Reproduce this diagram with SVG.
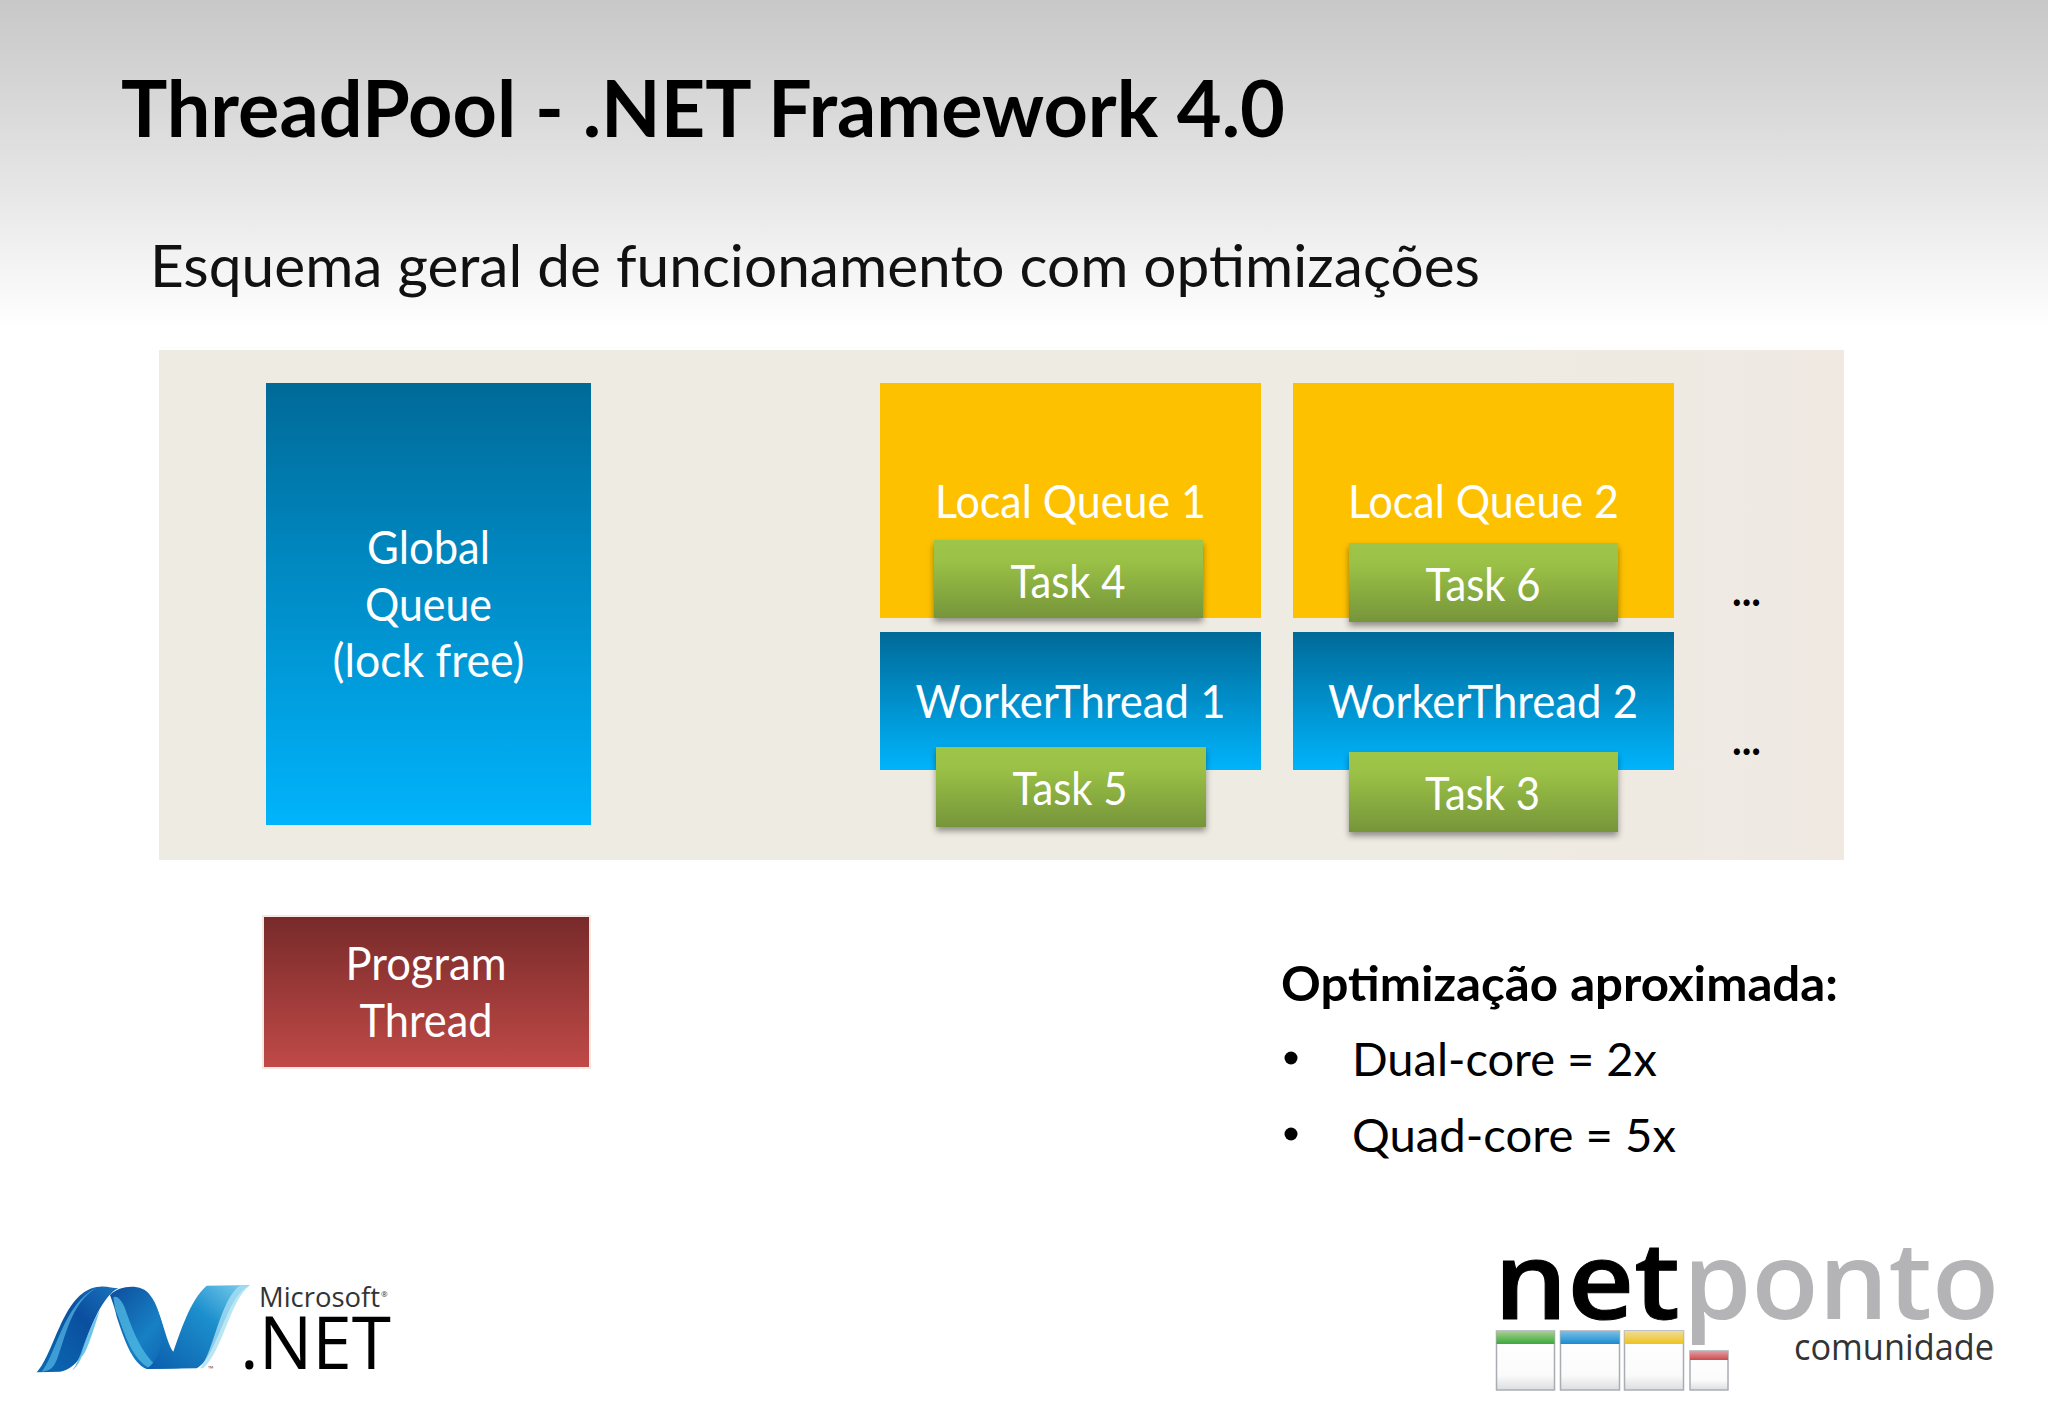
<svg xmlns="http://www.w3.org/2000/svg" width="2048" height="1418" viewBox="0 0 2048 1418">
<defs>
<linearGradient id="page" x1="0" y1="0" x2="0" y2="1"><stop offset="0" stop-color="#c8c8c8"/><stop offset="0.5" stop-color="#e2e2e2"/><stop offset="1" stop-color="#ffffff"/></linearGradient>
<linearGradient id="panel" x1="0" y1="0" x2="1" y2="0"><stop offset="0" stop-color="#eeebe2"/><stop offset="0.8" stop-color="#eeebe2"/><stop offset="1" stop-color="#efe9e2"/></linearGradient>
<linearGradient id="blue" x1="0" y1="0" x2="0" y2="1"><stop offset="0" stop-color="#006a98"/><stop offset="1" stop-color="#00b4fc"/></linearGradient>
<linearGradient id="green" x1="0" y1="0" x2="0" y2="1"><stop offset="0" stop-color="#9dc548"/><stop offset="0.25" stop-color="#9bc246"/><stop offset="1" stop-color="#76953a"/></linearGradient>
<linearGradient id="red" x1="0" y1="0" x2="0" y2="1"><stop offset="0" stop-color="#772a2a"/><stop offset="1" stop-color="#c04a47"/></linearGradient>
<linearGradient id="net1" x1="0" y1="1" x2="1" y2="0"><stop offset="0" stop-color="#0a6ab4"/><stop offset="0.6" stop-color="#0b4f9f"/><stop offset="1" stop-color="#1a73bd"/></linearGradient>
<linearGradient id="net2" x1="0" y1="0" x2="1" y2="1"><stop offset="0" stop-color="#0d4d9d"/><stop offset="0.55" stop-color="#1780c4"/><stop offset="1" stop-color="#0b5cab"/></linearGradient>
<linearGradient id="net3" x1="0" y1="1" x2="1" y2="0"><stop offset="0" stop-color="#0b5cab"/><stop offset="0.6" stop-color="#1c8fcd"/><stop offset="1" stop-color="#7fd0ee"/></linearGradient>
<linearGradient id="win" x1="0" y1="0" x2="0" y2="1"><stop offset="0" stop-color="#ffffff"/><stop offset="0.75" stop-color="#fbfbfb"/><stop offset="1" stop-color="#dcdde0"/></linearGradient>
<linearGradient id="hg" x1="0" y1="0" x2="0" y2="1"><stop offset="0" stop-color="#a8d08e"/><stop offset="1" stop-color="#3aa83c"/></linearGradient>
<linearGradient id="hb" x1="0" y1="0" x2="0" y2="1"><stop offset="0" stop-color="#7cc0e6"/><stop offset="1" stop-color="#1a8ad0"/></linearGradient>
<linearGradient id="hy" x1="0" y1="0" x2="0" y2="1"><stop offset="0" stop-color="#efdc98"/><stop offset="1" stop-color="#f0c21c"/></linearGradient>
<linearGradient id="hr" x1="0" y1="0" x2="0" y2="1"><stop offset="0" stop-color="#e0a0a2"/><stop offset="1" stop-color="#cc4a50"/></linearGradient>
<filter id="shadow" x="-5%" y="-5%" width="110%" height="125%"><feDropShadow dx="0" dy="4" stdDeviation="3" flood-color="#000" flood-opacity="0.4"/></filter>
</defs>
<style>
text{font-family:Lato,"Open Sans",sans-serif}
.l{fill:#fff;font-size:46px;text-anchor:middle}
.b{fill:#000;font-size:47px}
.win{stroke:#a9adb2;stroke-width:1.5;fill:url(#win)}
.logo{font-family:"Open Sans",sans-serif}
</style>
<rect width="2048" height="1418" fill="#fff"/>
<rect id="page-bg" width="2048" height="330" fill="url(#page)"/>
<text id="title" x="121" y="137" font-size="78" font-weight="700" textLength="1164" lengthAdjust="spacingAndGlyphs" fill="#000">ThreadPool - .NET Framework 4.0</text>
<text id="subtitle" x="150" y="287" font-size="59" textLength="1330" lengthAdjust="spacingAndGlyphs" fill="#111">Esquema geral de funcionamento com optimizações</text>
<rect id="panel-rect" x="159" y="350" width="1685" height="510" fill="url(#panel)"/>
<g id="global-queue"><rect x="266" y="383" width="325" height="442" fill="url(#blue)"/>
<text class="l" x="428.5" y="564" textLength="123" lengthAdjust="spacingAndGlyphs">Global</text>
<text class="l" x="428.5" y="621" textLength="127" lengthAdjust="spacingAndGlyphs">Queue</text>
<text class="l" x="428.5" y="677" textLength="192" lengthAdjust="spacingAndGlyphs">(lock free)</text></g>
<g id="program-thread"><rect x="263" y="916" width="327" height="152" fill="url(#red)" stroke="#f6e8e2" stroke-width="2"/>
<text class="l" x="426" y="980" textLength="161" lengthAdjust="spacingAndGlyphs">Program</text>
<text class="l" x="426" y="1037" textLength="133" lengthAdjust="spacingAndGlyphs">Thread</text></g>
<g id="local-queue-1"><rect x="880" y="383" width="381" height="235" fill="#fdc100"/><text class="l" x="1070.5" y="518" textLength="271" lengthAdjust="spacingAndGlyphs">Local Queue 1</text></g>
<g id="local-queue-2"><rect x="1293" y="383" width="381" height="235" fill="#fdc100"/><text class="l" x="1483.5" y="518" textLength="271" lengthAdjust="spacingAndGlyphs">Local Queue 2</text></g>
<g id="worker-thread-1"><rect x="880" y="632" width="381" height="138" fill="url(#blue)"/><text class="l" x="1070.5" y="718" textLength="310" lengthAdjust="spacingAndGlyphs">WorkerThread 1</text></g>
<g id="worker-thread-2"><rect x="1293" y="632" width="381" height="138" fill="url(#blue)"/><text class="l" x="1483" y="718" textLength="310" lengthAdjust="spacingAndGlyphs">WorkerThread 2</text></g>
<g id="task-4"><rect x="934" y="540" width="269" height="78" fill="url(#green)" filter="url(#shadow)"/><text class="l" x="1068" y="598" textLength="115" lengthAdjust="spacingAndGlyphs">Task 4</text></g>
<g id="task-6"><rect x="1349" y="543" width="269" height="79" fill="url(#green)" filter="url(#shadow)"/><text class="l" x="1483" y="601" textLength="115" lengthAdjust="spacingAndGlyphs">Task 6</text></g>
<g id="task-5"><rect x="936" y="747" width="270" height="80" fill="url(#green)" filter="url(#shadow)"/><text class="l" x="1070" y="805" textLength="115" lengthAdjust="spacingAndGlyphs">Task 5</text></g>
<g id="task-3"><rect x="1349" y="752" width="269" height="80" fill="url(#green)" filter="url(#shadow)"/><text class="l" x="1482.5" y="810" textLength="115" lengthAdjust="spacingAndGlyphs">Task 3</text></g>
<g id="ellipses"><text x="1732" y="606" font-size="44" font-weight="700" fill="#000" textLength="29" lengthAdjust="spacingAndGlyphs">...</text><text x="1732" y="755" font-size="44" font-weight="700" fill="#000" textLength="29" lengthAdjust="spacingAndGlyphs">...</text></g>
<g id="optimization-note">
<text class="b" x="1281" y="1001" font-weight="700" textLength="557" lengthAdjust="spacingAndGlyphs">Optimização aproximada:</text>
<circle cx="1291" cy="1058" r="6.5" fill="#000"/><text class="b" x="1352" y="1076" textLength="305" lengthAdjust="spacingAndGlyphs">Dual-core = 2x</text>
<circle cx="1291" cy="1134" r="6.5" fill="#000"/><text class="b" x="1352" y="1152" textLength="324" lengthAdjust="spacingAndGlyphs">Quad-core = 5x</text>
</g>
<g id="dotnet-logo">
<g transform="translate(0,1220) scale(0.3333)">
<path d="M110,457 C165,400 190,205 300,200 C320,198 340,205 355,205 C310,225 270,320 245,400 C235,430 205,452 180,455 Z" fill="url(#net1)"/>
<path d="M125,455 C170,400 190,250 290,203 C210,250 195,360 170,420 C160,445 150,452 125,455 Z" fill="#56b6e6" opacity=".7"/>
<path d="M215,452 C240,430 255,340 300,270 C280,330 260,400 245,410 C235,435 225,445 215,452 Z" fill="#4bb5e4" opacity=".8"/>
<path d="M330,225 C360,195 425,190 450,225 C495,280 490,400 540,445 L440,447 C395,430 370,350 350,290 C345,265 335,240 330,225 Z" fill="url(#net2)"/>
<path d="M345,265 C370,330 395,420 450,445 L480,446 C430,410 400,340 375,265 C365,240 350,225 340,232 Z" fill="#52bce6" opacity=".75"/>
<path d="M440,447 L590,445 C620,430 640,380 670,310 C690,265 710,215 750,195 L620,197 C570,240 540,340 520,395 C500,370 490,300 470,270 C495,340 490,410 440,447 Z" fill="url(#net3)"/>
<path d="M600,445 C640,400 660,240 720,196 L750,196 C690,240 670,390 610,445 Z" fill="#a8dff2" opacity=".8"/>
</g>
<text class="logo" x="259" y="1307" font-size="28" textLength="121" lengthAdjust="spacingAndGlyphs" fill="#333">Microsoft</text>
<text class="logo" x="381" y="1297" font-size="8" fill="#333">®</text>
<text class="logo" x="208" y="1371" font-size="7" fill="#555">™</text>
<text class="logo" x="240" y="1369" font-size="74" textLength="151" lengthAdjust="spacingAndGlyphs" fill="#000">.NET</text>
</g>
<g id="netponto-logo">
<text class="logo" x="1494" y="1319" font-size="106" font-weight="600" stroke="#000" stroke-width="1" textLength="186" lengthAdjust="spacingAndGlyphs" fill="#000">net</text>
<text class="logo" x="1683" y="1319" font-size="106" font-weight="600" textLength="316" lengthAdjust="spacingAndGlyphs" fill="#b4b4b6">ponto</text>
<text class="logo" x="1794" y="1360" font-size="36" textLength="200" lengthAdjust="spacingAndGlyphs" fill="#333">comunidade</text>
<rect class="win" x="1496.5" y="1331" width="58" height="59"/><rect x="1496.5" y="1331" width="58" height="13" fill="url(#hg)"/>
<rect class="win" x="1560.5" y="1331" width="59" height="59"/><rect x="1560.5" y="1331" width="59" height="13" fill="url(#hb)"/>
<rect class="win" x="1624.5" y="1331" width="59" height="59"/><rect x="1624.5" y="1331" width="59" height="13" fill="url(#hy)"/>
<rect class="win" x="1690" y="1351" width="38" height="39"/><rect x="1690" y="1351" width="38" height="9" fill="url(#hr)"/>
</g>
</svg>
